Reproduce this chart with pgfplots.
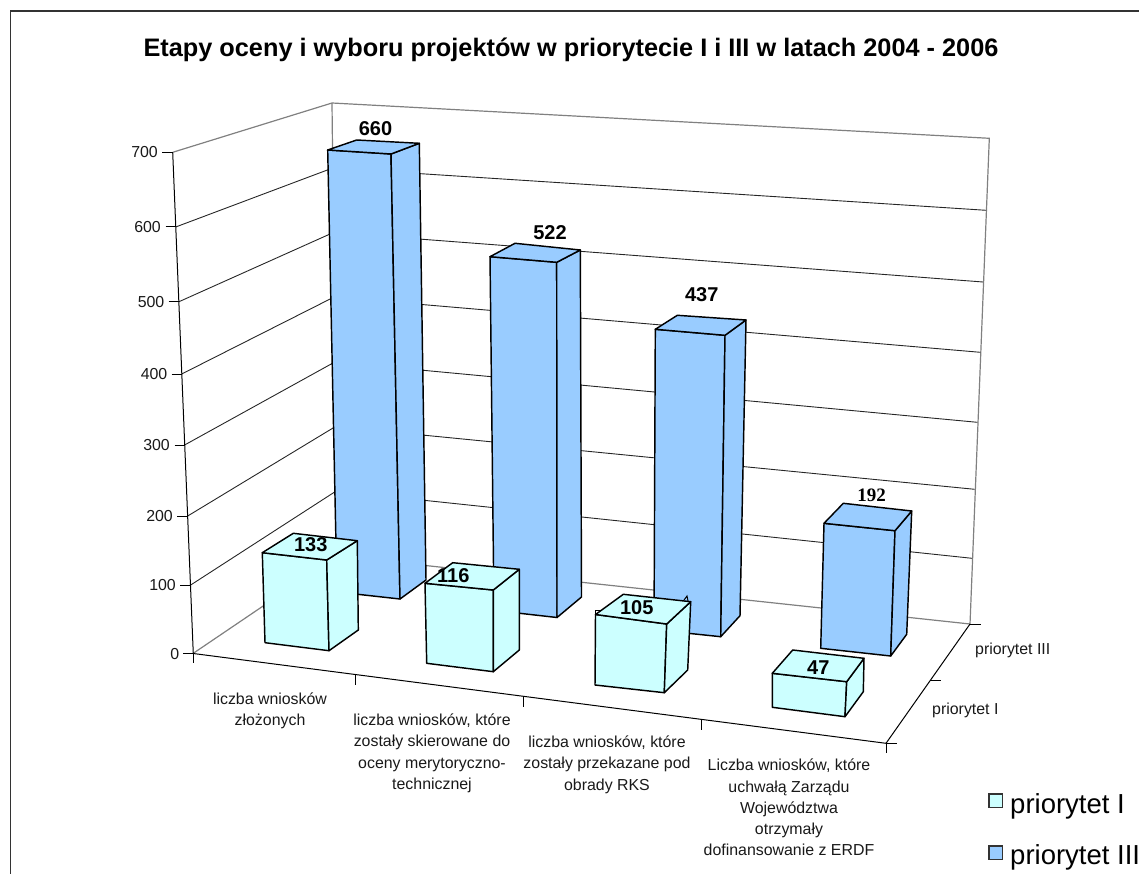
\documentclass[border=0pt]{standalone}
\usepackage{pgfplots}
\usepackage{fontspec}
\setmainfont{Liberation Sans}
\newfontfamily\timesf{Liberation Serif}
\pgfplotsset{compat=1.18}
\definecolor{cI}{HTML}{CCFFFF}
\definecolor{cIII}{HTML}{99CCFF}
\definecolor{wall}{HTML}{808080}
\newcommand{\grid}[2]{\addplot[mark=none,color=black!85,line width=0.9pt] coordinates {#1 #2};}
% face polygons of one bar: front TL, front TR, back TR, back TL, front BR, back BR, front BL
\newcommand{\barbox}[8]{%
 \addplot[mark=none,draw=black,fill=#1,line width=1.45pt,line join=round] coordinates {#2 #3 #6 #8} -- cycle;
 \addplot[mark=none,draw=black,fill=#1,line width=1.45pt,line join=round] coordinates {#3 #4 #7 #6} -- cycle;
 \addplot[mark=none,draw=black,fill=#1,line width=1.45pt,line join=round] coordinates {#2 #3 #4 #5} -- cycle;
}
\newcommand{\ax}[3]{\node[anchor=base east,inner sep=0pt,font=\fontsize{15.9}{16}\selectfont,text=black!90] at (axis cs:#1,#2) {#3};}
\newcommand{\cat}[3]{\node[anchor=base,inner sep=0pt,font=\fontsize{15.9}{16}\selectfont,text=black!90] at (axis cs:#1,#2) {#3};}
\newcommand{\val}[3]{\node[anchor=base,inner sep=0pt,font=\fontsize{20}{20}\selectfont\bfseries] at (axis cs:#1,#2) {#3};}
\begin{document}
\begin{tikzpicture}
\useasboundingbox (0,0) rectangle (1139pt,874pt);
\begin{axis}[at={(0,0)},anchor=south west,scale only axis,width=1139pt,height=874pt,
  xmin=0,xmax=1139,ymin=0,ymax=874,y dir=reverse,hide axis,clip=false]
% frame
\addplot[mark=none,color=black!80,line width=1.2pt] coordinates {(10.5,874) (10.5,11) (1139,11)};
% left wall gridlines and back wall gridlines
\addplot[mark=none,color=wall,line width=1.2pt] coordinates {(172.7,152.3) (332,103) (989.3,138.3) (970,624) (337,556) (193,653.5)};
\addplot[mark=none,color=wall,line width=1.2pt] coordinates {(332,103) (337,556)};
\grid{(175.7,227)}{(332.7,168) (986,210.3)}
\grid{(179,301.7)}{(333.4,232.5) (983,282)}
\grid{(181.7,374)}{(334.1,297) (980.3,352.3)}
\grid{(184.6,445)}{(334.8,362) (977.3,422.3)}
\grid{(187.7,516)}{(335.5,426.5) (974.7,489.3)}
\grid{(190.7,585)}{(336.2,491) (972,558.3)}
% floor front and right edges, value axis, ticks
\addplot[mark=none,color=black,line width=1pt] coordinates {(172.7,152.3) (193.3,654)};
\addplot[mark=none,color=black,line width=1pt] coordinates {(193.3,653.5) (886,743.3) (970,624)};
\addplot[mark=none,color=black,line width=1pt] coordinates {(193.3,653) (193.3,663)};
\addplot[mark=none,color=black,line width=1pt] coordinates {(355,674.5) (355,684.5)};
\addplot[mark=none,color=black,line width=1pt] coordinates {(523,697) (523,706.5)};
\addplot[mark=none,color=black,line width=1pt] coordinates {(701,720) (701,729.5)};
\addplot[mark=none,color=black,line width=1pt] coordinates {(886,743.3) (886,753)};
\addplot[mark=none,color=black,line width=1pt] coordinates {(886,743.3) (897,743.3)};
\addplot[mark=none,color=black,line width=1pt] coordinates {(930,680) (941,680)};
\addplot[mark=none,color=black,line width=1pt] coordinates {(970,624) (981,624)};
\addplot[mark=none,color=black,line width=1pt] coordinates {(162,152.3) (172.7,152.3)};
\addplot[mark=none,color=black,line width=1pt] coordinates {(165.7,227) (175.7,227)};
\addplot[mark=none,color=black,line width=1pt] coordinates {(168.5,301.7) (179,301.7)};
\addplot[mark=none,color=black,line width=1pt] coordinates {(171.5,374) (181.7,374)};
\addplot[mark=none,color=black,line width=1pt] coordinates {(174.5,445) (184.6,445)};
\addplot[mark=none,color=black,line width=1pt] coordinates {(177,516) (187.7,516)};
\addplot[mark=none,color=black,line width=1pt] coordinates {(180,585) (190.7,585)};
\addplot[mark=none,color=black,line width=1pt] coordinates {(183,653.3) (193.3,653.3)};
% priorytet III bars: 660, 522, 437, 192
\barbox{cIII}{(327.7,150)}{(391,154)}{(419.3,143.3)}{(356.7,140)}{(400,599)}{(426,580)}{(337,592)}
\barbox{cIII}{(490,256.7)}{(556.7,262.3)}{(580.3,250)}{(515,243.3)}{(557,617.5)}{(581.5,597)}{(494,610.4)}
\barbox{cIII}{(655.3,329.3)}{(725,335.3)}{(746,320)}{(677.3,315.3)}{(720.7,636.7)}{(740,615.7)}{(654,629.7)}
\barbox{cIII}{(824,523.3)}{(895,530.7)}{(911.7,511)}{(843.3,503.3)}{(890.7,656)}{(906.7,634.3)}{(820.7,648.3)}
% priorytet I bars: 133, 116, 105, 47
\barbox{cI}{(262.3,552.7)}{(326.7,560)}{(357.3,540.7)}{(293.3,533.3)}{(329,650.7)}{(358.3,630)}{(265,642.7)}
\barbox{cI}{(425,583.3)}{(493.3,590)}{(519.3,569.3)}{(452.7,562.7)}{(493.3,671.7)}{(519.3,650)}{(426.7,663.3)}
\addplot[mark=none,draw=black,line width=1pt] coordinates {(684,600) (687,596) (688,601)};
\barbox{cI}{(595.5,614.5)}{(666.7,624)}{(690.7,601.7)}{(623.3,594.3)}{(664.3,692.7)}{(687.7,670)}{(595,685)}
\addplot[mark=none,draw=black,line width=1pt] coordinates {(600,610.5) (595.2,610.5) (595.2,616)};
\barbox{cI}{(772.3,673.3)}{(846.7,681.7)}{(864,658.3)}{(792.7,650)}{(845,716.7)}{(863.3,691.7)}{(772.3,707.3)}
% value labels
\val{375.5}{135.5}{660}
\val{550}{240}{522}
\val{701.7}{301.7}{437}
\val{310.7}{551}{133}
\val{453.3}{582.5}{116}
\val{636.7}{614}{105}
\val{818.3}{674.3}{47}
\node[anchor=base,inner sep=0pt,font=\fontsize{19}{19}\selectfont\bfseries\timesf] at (axis cs:871.5,501.7) {192};
% title
\node[anchor=base,inner sep=0pt,font=\fontsize{25.3}{25}\selectfont\bfseries] at (axis cs:571,56.5) {Etapy oceny i wyboru projektów w priorytecie I i III w latach 2004 - 2006};
% value-axis labels
\ax{158}{158}{700}
\ax{161}{232.5}{600}
\ax{164.5}{307}{500}
\ax{167.5}{379.5}{400}
\ax{170}{450.5}{300}
\ax{173}{521.5}{200}
\ax{176}{590.5}{100}
\ax{179.5}{659}{0}
% category labels
\cat{270}{704.5}{liczba wniosków}
\cat{270}{725.5}{złożonych}
\cat{432}{725.5}{liczba wniosków, które}
\cat{432}{746.5}{zostały skierowane do}
\cat{432}{768.5}{oceny merytoryczno-}
\cat{432}{789.5}{technicznej}
\cat{607}{747.5}{liczba wniosków, które}
\cat{607}{768.5}{zostały przekazane pod}
\cat{607}{790.5}{obrady RKS}
\cat{789}{770.5}{Liczba wniosków, które}
\cat{789}{792.5}{uchwałą Zarządu}
\cat{789}{813.5}{Województwa}
\cat{789}{834.5}{otrzymały}
\cat{789}{855.5}{dofinansowanie z ERDF}
\node[anchor=base west,inner sep=0pt,font=\fontsize{15.9}{16}\selectfont,text=black!90] at (axis cs:975,654.5) {priorytet III};
\node[anchor=base west,inner sep=0pt,font=\fontsize{15.9}{16}\selectfont,text=black!90] at (axis cs:932,714.5) {priorytet I};
% legend
\addplot[mark=none,draw=black!80,fill=cI,line width=1.1pt] coordinates {(989,794) (1002.3,794) (1002.3,807.3) (989,807.3)} -- cycle;
\addplot[mark=none,draw=black!80,fill=cIII,line width=1.1pt] coordinates {(989,846) (1002.3,846) (1002.3,859.3) (989,859.3)} -- cycle;
\node[anchor=base west,inner sep=0pt,font=\fontsize{27.5}{27}\selectfont] at (axis cs:1010,813) {priorytet I};
\node[anchor=base west,inner sep=0pt,font=\fontsize{27.5}{27}\selectfont] at (axis cs:1010,864) {priorytet III};
\end{axis}
\end{tikzpicture}
\end{document}
